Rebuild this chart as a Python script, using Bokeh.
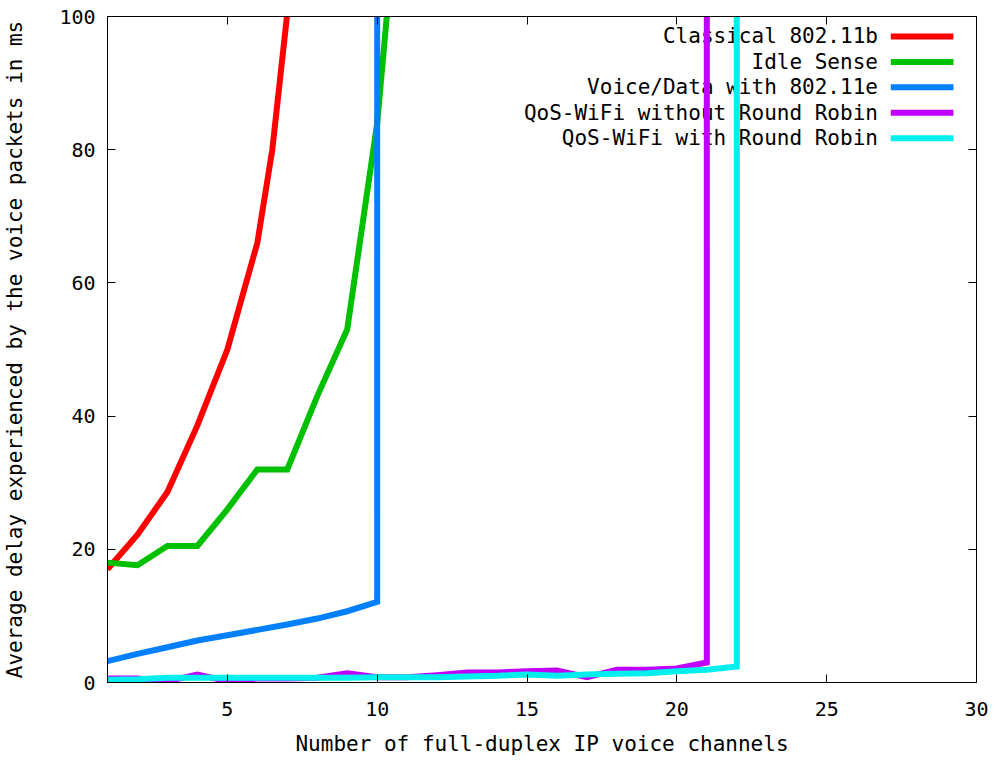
from bokeh.plotting import figure
from bokeh.models import Range1d, LinearAxis, FixedTicker, Label, BoxAnnotation, CustomJSTickFormatter
from bokeh.embed import file_html
from bokeh.resources import INLINE

# ---------------- data ----------------
series_names = [
    "Classical 802.11b",
    "Idle Sense",
    "Voice/Data with 802.11e",
    "QoS-WiFi without Round Robin",
    "QoS-WiFi with Round Robin",
]
series_colors = ["#ff0000", "#00c000", "#0080ff", "#c000ff", "#00eeee"]

classic_x = [1, 2, 3, 4, 5, 6, 6.5, 7]
classic_y = [17.0, 22.2, 28.6, 38.6, 50.0, 66.0, 80.0, 100.5]

idle_x = [1, 2, 3, 4, 5, 6, 7, 8, 9, 10, 11]
idle_y = [18.0, 17.6, 20.5, 20.5, 26.0, 32.0, 32.0, 43.0, 53.0, 84.0, 134.0]

voice_x = [1, 2, 3, 4, 5, 6, 7, 8, 9, 10, 10]
voice_y = [3.2, 4.3, 5.3, 6.3, 7.1, 7.9, 8.7, 9.6, 10.7, 12.1, 1000.0]

qos_norr_x = [1, 2, 3, 4, 5, 6, 7, 8, 9, 10, 11, 12, 13, 14, 15, 16, 17, 18, 19, 20, 21, 21]
qos_norr_y = [0.6, 0.6, 0.2, 1.2, 0.2, 0.6, 0.6, 0.7, 1.4, 0.8, 0.8, 1.1, 1.5, 1.5, 1.7,
              1.8, 0.8, 1.9, 1.9, 2.1, 3.0, 1000.0]

qos_rr_x = [1, 2, 3, 4, 5, 6, 7, 8, 9, 10, 11, 12, 13, 14, 15, 16, 17, 18, 19, 20, 21, 22, 22]
qos_rr_y = [0.4, 0.5, 0.7, 0.7, 0.7, 0.7, 0.7, 0.7, 0.7, 0.8, 0.8, 0.8, 0.9, 1.0, 1.2,
            1.0, 1.2, 1.3, 1.4, 1.7, 1.9, 2.4, 1000.0]

x_ticks = [5, 10, 15, 20, 25, 30]
y_ticks = [0, 20, 40, 60, 80, 100]

x_label = "Number of full-duplex IP voice channels"
y_label = "Average delay experienced by the voice packets in ms"

# ---------------- figure ----------------
FONT = "DejaVu Sans Mono"

p = figure(
    width=990, height=758,
    output_backend="svg", toolbar_location=None,
    x_range=Range1d(1, 30), y_range=Range1d(0, 100),
    min_border_left=105, min_border_right=14, min_border_top=16, min_border_bottom=75,
)
p.xgrid.visible = False
p.ygrid.visible = False
p.outline_line_color = "black"
p.outline_line_alpha = 1.0
p.outline_line_width = 1
p.background_fill_color = "white"
p.border_fill_color = "white"


def style_axis(ax, ticks):
    ax.ticker = FixedTicker(ticks=ticks)
    ax.axis_line_color = "black"
    ax.major_tick_line_color = "black"
    ax.major_tick_in = 8
    ax.major_tick_out = 0
    ax.minor_tick_line_color = None
    ax.major_label_text_font = FONT
    ax.major_label_text_font_size = "20px"
    ax.major_label_text_color = "black"
    ax.axis_label_text_font = FONT
    ax.axis_label_text_font_size = "21px"
    ax.axis_label_text_font_style = "normal"
    ax.axis_label_text_color = "black"


style_axis(p.xaxis[0], x_ticks)
style_axis(p.yaxis[0], y_ticks)
p.xaxis[0].axis_label = x_label
p.yaxis[0].axis_label = y_label
p.xaxis[0].major_label_standoff = 19
p.xaxis[0].axis_label_standoff = 13
p.yaxis[0].major_label_standoff = 12
p.yaxis[0].axis_label_standoff = 29

# mirrored ticks on top and right
for side, ticks in (("above", x_ticks), ("right", y_ticks)):
    ax = LinearAxis()
    style_axis(ax, ticks)
    ax.formatter = CustomJSTickFormatter(code="return ''")
    ax.major_label_text_font_size = "0px"
    ax.major_label_standoff = 0
    ax.axis_label = None
    p.add_layout(ax, side)

# ---------------- lines ----------------
all_x = [classic_x, idle_x, voice_x, qos_norr_x, qos_rr_x]
all_y = [classic_y, idle_y, voice_y, qos_norr_y, qos_rr_y]
for xs, ys, c in zip(all_x, all_y, series_colors):
    p.line(xs, ys, line_color=c, line_width=6, line_join="miter")

# ---------------- key (gnuplot style: text, then sample) ----------------
key_text_x = 26.71
key_line_x0 = 27.14
key_line_x1 = 29.23
key_y0 = 97.0
key_step = 3.82
for i, (name, c) in enumerate(zip(series_names, series_colors)):
    yy = key_y0 - i * key_step
    p.add_layout(Label(x=key_text_x, y=yy, text=name, text_align="right",
                       text_baseline="middle", text_font=FONT, text_font_size="21px",
                       text_color="black", level="underlay"))
    p.add_layout(BoxAnnotation(left=key_line_x0, right=key_line_x1,
                               bottom=yy - 0.45, top=yy + 0.45,
                               fill_color=c, fill_alpha=1.0, line_color=None,
                               level="underlay"))

open("out.html", "w").write(file_html(p, INLINE))
